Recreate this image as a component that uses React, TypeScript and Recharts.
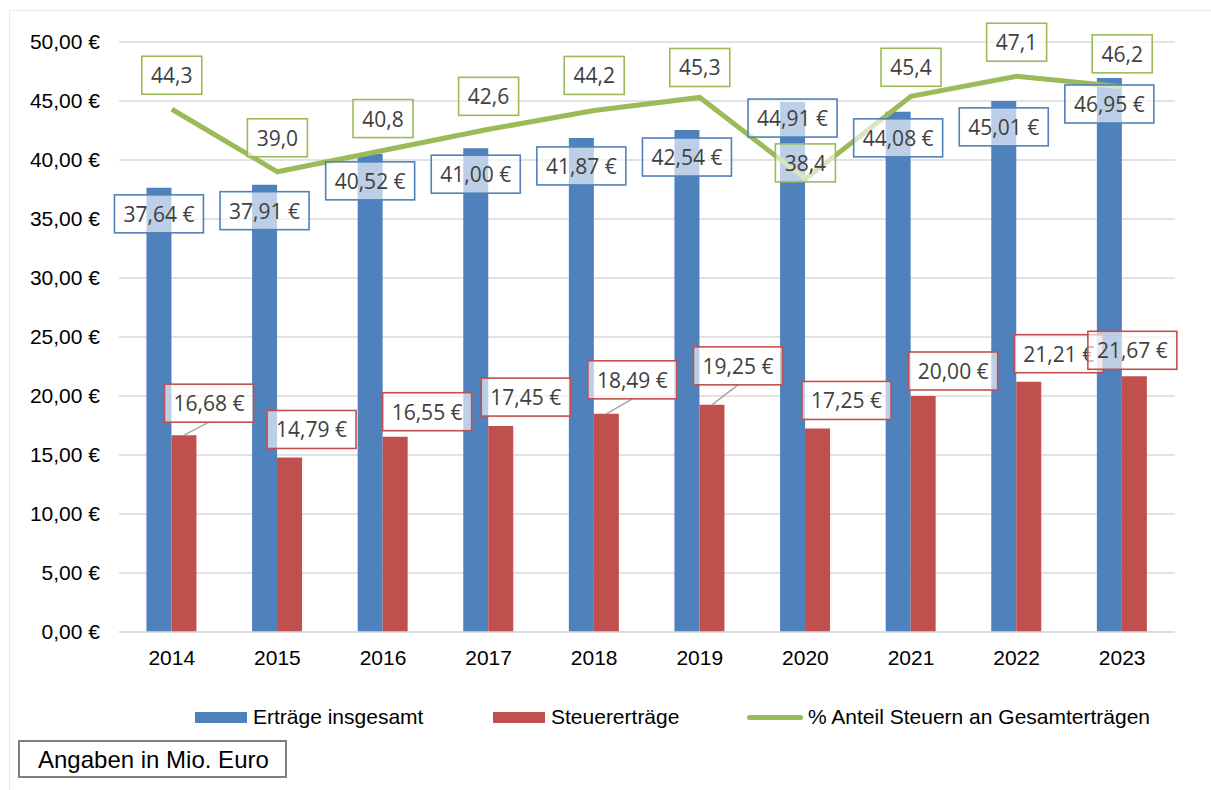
import React from 'react';
import { ComposedChart, Bar, Line, XAxis, YAxis, CartesianGrid, LabelList } from 'recharts';

// ---- data ----
const years = ['2014', '2015', '2016', '2017', '2018', '2019', '2020', '2021', '2022', '2023'];
const ertraegeInsgesamt = [37.64, 37.91, 40.52, 41.0, 41.87, 42.54, 44.91, 44.08, 45.01, 46.95];
const steuerertraege = [16.68, 14.79, 16.55, 17.45, 18.49, 19.25, 17.25, 20.0, 21.21, 21.67];
const anteilSteuern = [44.3, 39.0, 40.8, 42.6, 44.2, 45.3, 38.4, 45.4, 47.1, 46.2];
const yTicks = [0, 5, 10, 15, 20, 25, 30, 35, 40, 45, 50];

// ---- label nudges (layout only, px) ----
const blueLabelDy = [26, 26, 27, 26, 28, 27, 16, 26, 26, 26];
const redLabelDx = [25, 22, 32, 25, 26, 26, 29, 30, 30, -2];
const redLabelDy = [-32, -28, -25, -29, -34, -39, -28, -25, -28, -26];
const greenLabelDy = [-34, -34, -32, -33, -35, -30, -16, -29, -34, -33];

const BLUE = '#4F81BD';
const RED = '#C0504D';
const GREEN = '#9BBB59';
const LABEL_FONT = '"Open Sans", "DejaVu Sans", sans-serif';
const AXIS_FONT = '"Liberation Sans", Arial, sans-serif';

const data = years.map((y, i) => ({
  year: y,
  total: ertraegeInsgesamt[i],
  tax: steuerertraege[i],
  share: anteilSteuern[i],
}));

const euro = (v: number) => v.toFixed(2).replace('.', ',') + ' €';
const pct = (v: number) => v.toFixed(1).replace('.', ',');

function getBox(props: any) {
  const vb = props.viewBox || {};
  const x = vb.x ?? props.x ?? 0;
  const y = vb.y ?? props.y ?? 0;
  const width = vb.width ?? props.width ?? 0;
  const height = vb.height ?? props.height ?? 0;
  return { x: Number(x), y: Number(y), width: Number(width), height: Number(height) };
}

function LabelBox({ cx, cy, w, text, stroke }: { cx: number; cy: number; w: number; text: string; stroke: string }) {
  const h = 38;
  return (
    <g>
      <rect x={cx - w / 2} y={cy - h / 2} width={w} height={h} fill="#ffffff" fillOpacity={0.62} stroke={stroke} strokeWidth={1.6} />
      <text x={cx} y={cy} textAnchor="middle" dominantBaseline="central" fontFamily={LABEL_FONT} fontSize={21} fill="#404040">
        {text}
      </text>
    </g>
  );
}

const BlueLabel = (props: any) => {
  const { x, y, width } = getBox(props);
  const i = props.index ?? 0;
  const cx = x + width / 2;
  const cy = y + blueLabelDy[i];
  return <LabelBox cx={cx} cy={cy} w={89} text={euro(Number(props.value))} stroke={BLUE} />;
};

const RedLabel = (props: any) => {
  const { x, y, width } = getBox(props);
  const i = props.index ?? 0;
  const bx = x + width / 2;
  const cx = bx + redLabelDx[i];
  const cy = y + redLabelDy[i];
  const boxBottom = cy + 19;
  const gap = y - boxBottom;
  return (
    <g>
      {gap > 12 && <line x1={bx} y1={y} x2={cx} y2={boxBottom} stroke="#a6a6a6" strokeWidth={1.5} />}
      <LabelBox cx={cx} cy={cy} w={89} text={euro(Number(props.value))} stroke={RED} />
    </g>
  );
};

const GreenLabel = (props: any) => {
  const { x, y } = getBox(props);
  const i = props.index ?? 0;
  return <LabelBox cx={x} cy={y + greenLabelDy[i]} w={60} text={pct(Number(props.value))} stroke={GREEN} />;
};

export default function App() {
  return (
    <div style={{ position: 'relative', width: 1211, height: 790, background: '#fff', overflow: 'hidden' }}>
      <style>{`body{margin:0;}`}</style>
      <div
        style={{
          position: 'absolute',
          left: 9,
          top: 10,
          width: 1400,
          height: 1000,
          borderLeft: '1.5px solid #ebebdf',
          borderTop: '1.5px solid #ebebdf',
        }}
      />
      <div style={{ position: 'absolute', left: 0, top: 0 }}>
        <ComposedChart
          width={1211}
          height={790}
          data={data}
          margin={{ top: 42, right: 36, bottom: 128, left: 0 }}
          barCategoryGap="26%"
          barGap={0}
        >
          <CartesianGrid vertical={false} stroke="#d9d9d9" strokeWidth={1.6} />
          <XAxis
            dataKey="year"
            height={30}
            axisLine={{ stroke: '#d9d9d9', strokeWidth: 1.6 }}
            tickLine={false}
            tickSize={6}
            tickMargin={12}
            tick={{ fontFamily: AXIS_FONT, fontSize: 21, fill: '#000' }}
          />
          <YAxis
            width={119}
            domain={[0, 50]}
            ticks={yTicks}
            interval={0}
            axisLine={false}
            tickLine={false}
            tickSize={6}
            tickMargin={13}
            tickFormatter={(v: number) => euro(v)}
            tick={{ fontFamily: AXIS_FONT, fontSize: 21, fill: '#000' }}
          />
          <Bar dataKey="total" fill={BLUE} isAnimationActive={false}>
            <LabelList dataKey="total" content={BlueLabel} />
          </Bar>
          <Bar dataKey="tax" fill={RED} isAnimationActive={false}>
            <LabelList dataKey="tax" content={RedLabel} />
          </Bar>
          <Line
            type="linear"
            dataKey="share"
            stroke={GREEN}
            strokeWidth={5}
            dot={false}
            activeDot={false}
            isAnimationActive={false}
          >
            <LabelList dataKey="share" content={GreenLabel} />
          </Line>
        </ComposedChart>
      </div>

      {/* legend */}
      <div style={{ position: 'absolute', left: 195, top: 712, width: 52, height: 11, background: BLUE }} />
      <div style={{ position: 'absolute', left: 253, top: 704, fontFamily: AXIS_FONT, fontSize: 21, lineHeight: '26px', color: '#000', whiteSpace: 'nowrap' }}>
        Erträge insgesamt
      </div>
      <div style={{ position: 'absolute', left: 493, top: 712, width: 52, height: 11, background: RED }} />
      <div style={{ position: 'absolute', left: 551, top: 704, fontFamily: AXIS_FONT, fontSize: 21, lineHeight: '26px', color: '#000', whiteSpace: 'nowrap' }}>
        Steuererträge
      </div>
      <div style={{ position: 'absolute', left: 747, top: 715, width: 56, height: 5, borderRadius: 3, background: GREEN }} />
      <div style={{ position: 'absolute', left: 808, top: 704, fontFamily: AXIS_FONT, fontSize: 21, lineHeight: '26px', color: '#000', whiteSpace: 'nowrap' }}>
        % Anteil Steuern an Gesamterträgen
      </div>

      {/* note box */}
      <div
        style={{
          position: 'absolute',
          left: 18,
          top: 740,
          width: 247,
          height: 34,
          border: '2px solid #7f7f7f',
          fontFamily: AXIS_FONT,
          fontSize: 24,
          lineHeight: '36px',
          paddingLeft: 18,
          boxSizing: 'content-box',
          color: '#000',
          whiteSpace: 'nowrap',
          overflow: 'hidden',
        }}
      >
        Angaben in Mio. Euro
      </div>
    </div>
  );
}
